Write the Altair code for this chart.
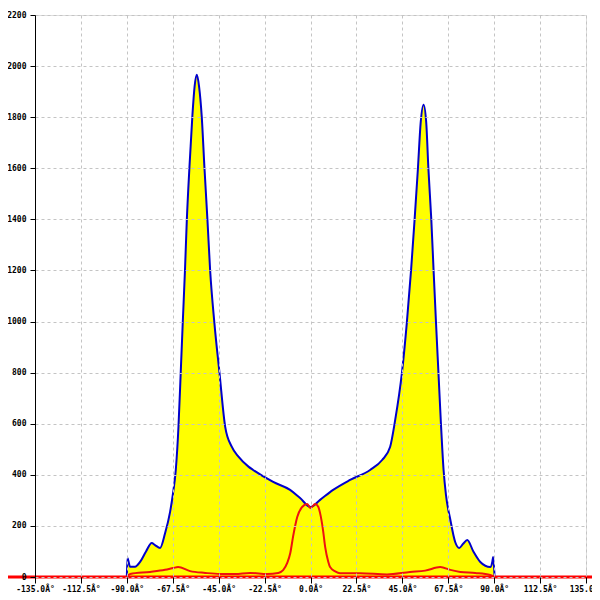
import altair as alt
import pandas as pd

# Tick values
x_ticks = [-135.0, -112.5, -90.0, -67.5, -45.0, -22.5, 0.0, 22.5, 45.0, 67.5, 90.0, 112.5, 135.0]
y_ticks = [0, 200, 400, 600, 800, 1000, 1200, 1400, 1600, 1800, 2000, 2200]

# Blue (upper) series
blue_x = [-90.0, -89.7, -88.4, -86.0, -83.5, -80.6, -77.8, -76.2, -73.7, -71.3, -68.8, -67.5,
          -66.0, -64.7, -63.6, -62.6, -61.5, -60.6, -59.3, -57.9, -56.8, -55.7, -54.6, -53.3,
          -52.0, -50.5, -49.2, -47.1, -44.6, -41.8, -38.6, -35.3, -30.4, -28.1, -18.3, -10.0,
          -5.1, 0.0, 4.7, 11.1, 19.4, 29.2, 35.1, 39.0, 41.5, 44.8, 47.2, 49.3, 51.0, 52.6,
          54.0, 55.4, 56.7, 57.8, 59.2, 60.3, 61.5, 62.7, 63.9, 65.2, 66.4, 68.5, 70.9, 72.9,
          74.8, 76.8, 79.8, 83.2, 88.1, 89.1, 89.5, 90.2]
blue_y = [0, 74, 40, 40, 59, 100, 133, 125, 114, 170, 255, 320,
          420, 588, 799, 995, 1203, 1398, 1607, 1803, 1920, 1966, 1920, 1803,
          1607, 1398, 1203, 995, 799, 588, 510, 471, 432, 419, 372, 341,
          309, 274, 302, 341, 380, 419, 458, 509, 615, 799, 995, 1203, 1398, 1594,
          1780, 1849, 1780, 1594, 1398, 1203, 995, 799, 603, 420, 320, 225, 137, 114,
          130, 145, 100, 59, 39, 60, 78, 0]

# Red (lower) series
red_x = [-90.0, -88.4, -78.6, -71.3, -67.3, -64.9, -59.0, -51.6, -44.3, -37.0, -29.6, -21.2,
         -15.8, -13.4, -11.4, -9.9, -8.5, -6.5, -4.1, -1.6, 0.0, 2.3, 3.8, 4.7, 6.2, 7.2,
         8.7, 9.6, 12.1, 14.5, 24.3, 37.5, 48.8, 56.2, 63.6, 68.5, 73.4, 80.7, 88.1, 90.2]
red_y = [0, 12, 20, 28, 35, 39, 23, 16, 12, 12, 16, 12,
         16, 27, 55, 94, 160, 235, 274, 286, 270, 286, 275, 250, 180, 117,
         60, 39, 22, 15, 15, 10, 20, 25, 39, 28, 20, 16, 8, 0]

blue = pd.DataFrame({"x": blue_x, "y": blue_y})
red = pd.DataFrame({"x": red_x, "y": red_y})

xs = alt.Scale(domain=[-135, 135], nice=False, zero=False)
ys = alt.Scale(domain=[0, 2200], nice=False)

font = "DejaVu Sans Mono"

x_axis = alt.Axis(values=x_ticks, title=None, grid=True, gridColor="#c4c4c4", gridDash=[3, 3],
                  domain=False, tickColor="#000000", tickSize=6, labelFont=font, labelFontSize=8,
                  labelFontWeight="bold", labelColor="#000000", labelPadding=2, labelFlush=False,
                  labelOverlap=False,
                  labelExpr="(datum.value < 0 ? '-' : '') + format(abs(datum.value), '.1f') + 'Â°'",
                  zindex=1)
y_axis = alt.Axis(values=y_ticks, title=None, grid=True, gridColor="#c4c4c4", gridDash=[3, 3],
                  domain=True, domainColor="#000000", tickColor="#000000", tickSize=5,
                  labelFont=font, labelFontSize=8, labelFontWeight="bold", labelColor="#000000",
                  labelPadding=4, labelFlush=False, labelOverlap=False, format="d", zindex=1)

area = alt.Chart(blue).mark_area(color="#ffff00", opacity=1, interpolate="monotone").encode(
    x=alt.X("x:Q", scale=xs, axis=x_axis),
    y=alt.Y("y:Q", scale=ys, axis=y_axis),
)
blue_line = alt.Chart(blue).mark_line(color="#0000cc", strokeWidth=2, interpolate="monotone").encode(
    x=alt.X("x:Q", scale=xs), y=alt.Y("y:Q", scale=ys))
red_line = alt.Chart(red).mark_line(color="#ee1111", strokeWidth=2, interpolate="monotone").encode(
    x=alt.X("x:Q", scale=xs), y=alt.Y("y:Q", scale=ys))
zero_rule = alt.Chart(pd.DataFrame({"y": [0]})).mark_rule(color="#ff0000", strokeWidth=3).encode(
    x=alt.value(-40), x2=alt.value(600), y=alt.Y("y:Q", scale=ys))

chart = alt.layer(area, blue_line, red_line, zero_rule).properties(
    width=551, height=562,
    autosize=alt.AutoSizeParams(type="none"),
    padding={"left": 27, "top": 7, "right": 6, "bottom": 15},
).configure_view(stroke=None).configure(background="#ffffff")

chart.save("out.html", embed_options={"renderer": "svg", "actions": False})
